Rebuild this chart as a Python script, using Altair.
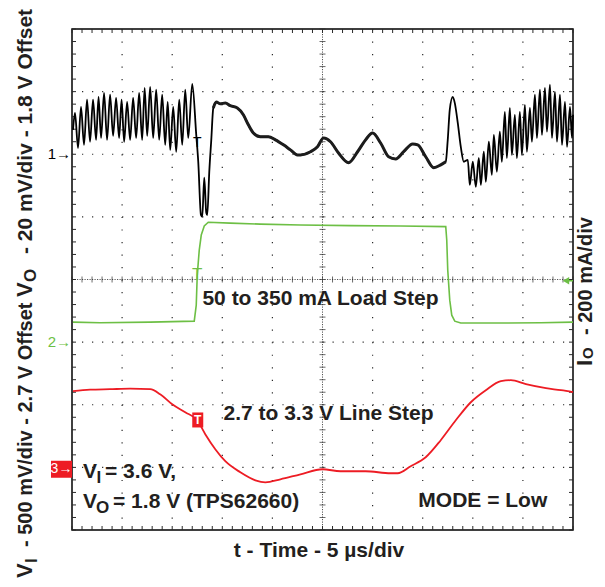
import altair as alt
import pandas as pd

# ---------------- values ----------------
# time axis: microseconds, 5 us/div, 10 divisions
# Channel 1: VO deviation (mV, 20 mV/div), reference marker at division 6
t_vo = [0.1, 0.3, 0.6, 0.9, 1.2, 1.5, 1.8, 2.1, 2.4, 2.65,
        2.9, 3.2, 3.5, 3.8, 4.1, 4.4, 4.7, 4.95, 5.2, 5.5,
        5.8, 6.1, 6.4, 6.7, 7.0, 7.25, 7.5, 7.8, 8.1, 8.4,
        8.7, 9.0, 9.3, 9.55, 9.8, 10.1, 10.4, 10.7, 11.0, 11.3,
        11.6, 12.0,
        12.4, 12.6, 12.87, 13.0, 13.2, 13.4, 13.5, 13.7, 13.9, 14.1,
        14.4, 14.8, 15.3, 15.8, 16.5, 17.1, 17.6, 18.1, 18.8, 19.6,
        20.3, 21.1, 21.8, 22.5, 22.8, 23.8, 24.5, 25.1, 25.8, 26.6,
        27.6, 28.5, 29.3, 30.0, 30.8, 31.6, 32.3, 33.1, 34.0, 34.5,
        35.3, 36.1, 36.8, 37.3, 37.5, 37.7, 38.0, 38.2, 38.5, 38.8,
        39.1,
        39.5, 39.7, 40.0, 40.3, 40.6, 40.8, 41.1, 41.3, 41.6, 41.9,
        42.1, 42.4, 42.7, 42.9, 43.2, 43.4, 43.7, 43.9, 44.2, 44.4,
        44.7, 44.9, 45.2, 45.4, 45.7, 45.9, 46.2, 46.4, 46.7, 46.9,
        47.2, 47.4, 47.7, 47.9, 48.2, 48.4, 48.7, 48.9, 49.2, 49.4,
        49.7, 49.9, 50.0]
vo_mv = [7.8, 13.2, 2.0, 15.1, 3.0, 17.4, 4.0, 17.4, 4.6, 18.3,
         5.2, 19.6, 4.6, 19.0, 5.9, 18.0, 5.2, 17.4, 4.0, 16.7,
         4.6, 18.0, 5.2, 19.6, 4.6, 21.2, 5.9, 21.5, 5.2, 20.6,
         4.6, 19.0, 3.0, 16.7, 1.4, 15.1, 0.8, 17.4, 3.0, 20.6,
         5.2, 22.5,
         6.2, -2.4, -19.4, -20.0, -7.5, -18.7, -19.4, -5.6, 4.6, 14.8,
         16.7, 16.1, 16.4, 15.5, 14.8, 12.6, 9.4, 6.8, 5.6, 5.6,
         4.6, 3.0, 1.4, -0.2, -0.2, 0.8, 2.4, 5.2, 4.0, 0.4,
         -2.7, 0.8, 4.6, 6.8, 3.6, -0.8, -1.5, 0.8, 3.3, 3.0,
         -0.8, -4.3, -3.4, -2.4, 4.6, 14.2, 18.3, 16.4, 10.0, 2.4,
         -2.4,
         -1.8, -9.8, -2.4, -10.4, -1.2, -9.8, 0.8, -8.8, 4.0, -6.6,
         6.2, -5.6, 7.2, -2.4, 13.5, -1.2, 14.8, -0.2, 12.6, -1.2,
         13.5, -0.2, 15.8, 0.8, 14.8, 4.0, 19.0, 5.2, 20.6, 6.2,
         21.2, 7.2, 22.2, 5.2, 19.9, 4.0, 19.0, 3.0, 16.7, 2.4,
         15.1, 5.2, 12.6]

# Channel 2: IO (mA, 200 mA/div), reference marker at division 3
t_io = [0.1, 2.8, 7.8, 12.2, 12.4, 12.5, 12.7, 12.9, 13.2, 13.6, 15.8, 18.8,
        22.8, 27.8, 32.8, 37.3, 37.4, 37.5, 37.7, 37.9, 38.2, 38.8, 42.8,
        46.8, 50.0]
io_ma = [64, 62, 64, 67, 118, 214, 294, 342, 371, 383, 380, 377,
         374, 372, 371, 369, 326, 230, 134, 86, 67, 61, 61,
         62, 64]

# Channel 3: VI (V, 500 mV/div, 2.7 V offset), reference marker near division 1
t_vi = [0.1, 1.8, 3.8, 5.8, 7.8, 8.8, 10.0, 11.3, 12.5, 13.3, 14.3, 15.3,
        16.8, 18.3, 19.3, 20.8, 22.8, 25.0, 26.8, 29.3, 31.8, 32.5, 33.8,
        35.3, 36.8, 38.3, 39.8, 41.3, 42.8, 43.8, 45.3, 47.3, 48.8, 50.0]
vi_v = [3.323, 3.335, 3.339, 3.343, 3.339, 3.299, 3.219, 3.155, 3.091, 2.980,
        2.860, 2.764, 2.676, 2.612, 2.596, 2.620, 2.660, 2.700, 2.684, 2.684,
        2.668, 2.668, 2.724, 2.796, 2.932, 3.091, 3.235, 3.331, 3.403, 3.411,
        3.379, 3.347, 3.331, 3.315]

# channel reference positions on the screen (divisions from the bottom)
ref_div = {"VO": 6.0, "IO": 3.0, "VI": 0.97}

# graticule (10 x 8 divisions, minor marks every 0.2 div)
major_t = [5, 10, 15, 20, 30, 35, 40, 45]
major_div = [1, 2, 3, 5, 6, 7]
minor_t = list(range(0, 51))
minor_div = [i / 5 for i in range(41)]

# ---------------- build ----------------
vo = pd.DataFrame({"t": t_vo, "v": vo_mv})
vo["y"] = ref_div["VO"] + vo["v"] / 20
io = pd.DataFrame({"t": t_io, "v": io_ma})
io["y"] = ref_div["IO"] + io["v"] / 200
vi = pd.DataFrame({"t": t_vi, "v": vi_v})
vi["y"] = ref_div["VI"] + (vi["v"] - 2.7) / 0.5

one = pd.DataFrame({"a": [0]})
W = H = 501
INK = "#231f20"
DOT = "#2a2a2a"
GREEN = "#6dbf45"
RED = "#ed1c24"
FONT = "Liberation Sans"

xs = alt.Scale(domain=[0, 50], nice=False, zero=False)
ys = alt.Scale(domain=[0, 8], nice=False, zero=False)
X = alt.X("t:Q", scale=xs, axis=None)
Y = alt.Y("y:Q", scale=ys, axis=None)


def at(t, y):
    return pd.DataFrame({"t": [t], "y": [y]})


layers = []
# the base layer carries the scales
layers.append(alt.Chart(vo).mark_line(color="black", strokeWidth=0, opacity=0)
              .encode(x=X, y=Y))
# dotted major grid
layers.append(alt.Chart(pd.DataFrame({"t": major_t})).mark_rule(
    color=DOT, strokeWidth=1.2, strokeDash=[1.2, 11.325]).encode(
    x=X, y=alt.value(0), y2=alt.value(H)))
layers.append(alt.Chart(pd.DataFrame({"y": major_div})).mark_rule(
    color=DOT, strokeWidth=1.2, strokeDash=[1.2, 8.82]).encode(
    y=Y, x=alt.value(0), x2=alt.value(W)))
# centre lines with minor ticks
layers.append(alt.Chart(at(25, 4)).mark_rule(color="#555", strokeWidth=1,
                                            strokeDash=[1.2, 1.3]).encode(
    x=X, y=alt.value(0), y2=alt.value(H)))
layers.append(alt.Chart(at(25, 4)).mark_rule(color="#555", strokeWidth=1,
                                            strokeDash=[1.2, 1.3]).encode(
    y=Y, x=alt.value(0), x2=alt.value(W)))
layers.append(alt.Chart(pd.DataFrame({"t": minor_t, "y": 4})).mark_tick(
    orient="vertical", size=6, thickness=1, color=DOT).encode(x=X, y=Y))
layers.append(alt.Chart(pd.DataFrame({"t": 25, "y": minor_div})).mark_tick(
    orient="horizontal", size=6, thickness=1, color=DOT).encode(x=X, y=Y))
# frame ticks
mt = pd.DataFrame({"t": minor_t})
md = pd.DataFrame({"y": minor_div})
layers.append(alt.Chart(mt).mark_rule(color=DOT, strokeWidth=1).encode(
    x=X, y=alt.value(0), y2=alt.value(4)))
layers.append(alt.Chart(mt).mark_rule(color=DOT, strokeWidth=1).encode(
    x=X, y=alt.value(H), y2=alt.value(H - 4)))
layers.append(alt.Chart(md).mark_rule(color=DOT, strokeWidth=1).encode(
    y=Y, x=alt.value(0), x2=alt.value(4)))
layers.append(alt.Chart(md).mark_rule(color=DOT, strokeWidth=1).encode(
    y=Y, x=alt.value(W), x2=alt.value(W - 4)))

# traces
layers.append(alt.Chart(io).mark_line(color=GREEN, strokeWidth=1.6).encode(x=X, y=Y))
layers.append(alt.Chart(vi).mark_line(color=RED, strokeWidth=1.8,
                                      interpolate="monotone").encode(x=X, y=Y))
layers.append(alt.Chart(vo).mark_line(color="black", strokeWidth=1.8,
                                      interpolate="monotone").encode(x=X, y=Y))
layers.append(alt.Chart(vo).transform_filter("datum.t >= 14.1 && datum.t <= 37.3")
              .mark_line(color="#1c1c1c", strokeWidth=3.0,
                         interpolate="monotone").encode(x=X, y=Y))


def mtext(text, size=21, color=INK, weight="bold", align="left",
          baseline="alphabetic", angle=0, dx=0, dy=0):
    props = dict(text=text, fontSize=size, color=color, fontWeight=weight,
                 align=align, baseline=baseline, font=FONT)
    if angle:
        props["angle"] = angle
    if dx:
        props["dx"] = dx
    if dy:
        props["dy"] = dy
    return props


def label_at(text, t, y, **kw):
    return alt.Chart(at(t, y)).mark_text(**mtext(text, **kw)).encode(x=X, y=Y)


def label_px(text, px, py, **kw):
    return alt.Chart(one).mark_text(**mtext(text, **kw)).encode(
        x=alt.value(px), y=alt.value(py))


# channel reference markers
layers.append(alt.Chart(at(0, ref_div["VO"])).mark_text(**mtext(
    "1\u2192", size=15, color="black", weight="normal", align="right",
    baseline="middle")).encode(x=alt.value(-1), y=Y))
layers.append(alt.Chart(at(0, ref_div["IO"])).mark_text(**mtext(
    "2\u2192", size=15, color=GREEN, weight="normal", align="right",
    baseline="middle")).encode(x=alt.value(-1), y=Y))
layers.append(alt.Chart(at(0, ref_div["VI"])).mark_rect(
    color=RED, yOffset=-8.5, y2Offset=8.5)
    .encode(x=alt.value(-21), x2=alt.value(0), y=Y, y2="y:Q"))
layers.append(alt.Chart(at(0, ref_div["VI"])).mark_text(**mtext(
    "3\u2192", size=14, color="white", weight="normal", align="center",
    baseline="middle")).encode(x=alt.value(-10.5), y=Y))
# trigger markers
layers.append(label_at("T", 12.5, 6.12, size=14, color="black", weight="normal",
                       align="center"))
layers.append(label_at("T", 12.5, 3.99, size=17, color=GREEN, weight="normal",
                       align="center"))
layers.append(alt.Chart(at(12.55, 1.757)).mark_rect(
    color=RED, xOffset=-5.5, x2Offset=5.5, yOffset=-7.5, y2Offset=7.5)
    .encode(x=X, x2="t:Q", y=Y, y2="y:Q"))
layers.append(label_at("T", 12.55, 1.757, size=12, color="white", align="center",
                       baseline="middle"))
layers.append(alt.Chart(at(49.3, 3.98)).mark_point(
    shape="triangle-left", filled=True, size=55, color=GREEN, opacity=1)
    .encode(x=X, y=Y))
layers.append(alt.Chart(at(49.4, 3.98)).mark_rule(color=GREEN, strokeWidth=1.5)
              .encode(x=X, x2=alt.value(W), y=Y))

# annotations inside the plot
layers.append(label_at("50 to 350 mA Load Step", 24.8, 3.594, align="center"))
layers.append(label_at("2.7 to 3.3 V Line Step", 25.6, 1.757, align="center"))
layers.append(label_at("V", 1.1, 0.831))
layers.append(label_at("I", 1.1, 0.831, size=17, dx=13.5, dy=5))
layers.append(label_at("= 3.6 V,", 1.1, 0.831, dx=22))
layers.append(label_at("V", 1.1, 0.351))
layers.append(label_at("O", 1.1, 0.351, size=17, dx=13, dy=5))
layers.append(label_at("= 1.8 V (TPS62660)", 1.1, 0.351, dx=30))
layers.append(label_at("MODE = Low", 41.0, 0.367, align="center"))

# axis titles (outside the plot area, pixel positions relative to the plot)
layers.append(label_px("t - Time - 5 \u00b5s/div", 247, 528, align="center"))
layers.append(label_px("V", -40, 268, size=22, angle=270))
layers.append(label_px("O", -36, 253, size=17, angle=270))
layers.append(label_px("- 20 mV/div - 1.8 V Offset", -40, 225, size=21, angle=270))
layers.append(label_px("V", -40, 549, size=22, angle=270))
layers.append(label_px("I", -35, 534, size=17, angle=270))
layers.append(label_px("- 500 mV/div - 2.7 V Offset", -40, 518, size=20, angle=270))
layers.append(label_px("I", 520, 337, size=22, angle=270))
layers.append(label_px("O", 521, 330, size=15, angle=270))
layers.append(label_px("- 200 mA/div", 520, 306, size=20, angle=270))

chart = alt.layer(*layers).properties(
    width=W, height=H,
    autosize=alt.AutoSizeParams(type="none"),
    padding={"left": 64, "top": 21, "right": 24, "bottom": 49},
).configure_view(stroke="black", strokeWidth=1.5)

chart.save("out.html", embed_options={"renderer": "svg", "actions": False})
